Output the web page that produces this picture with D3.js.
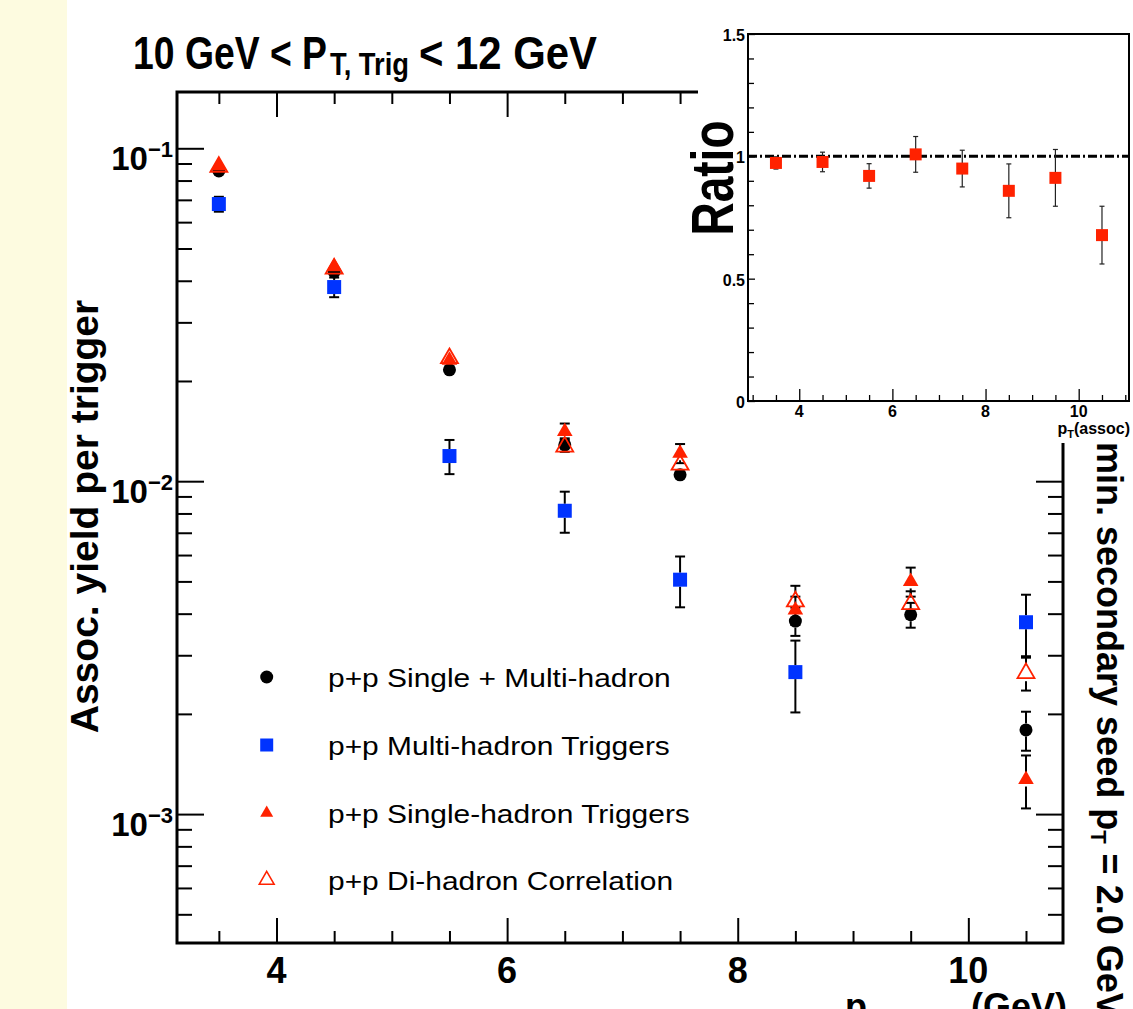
<!DOCTYPE html>
<html><head><meta charset="utf-8">
<script src="https://cdn.jsdelivr.net/npm/d3@7"></script>
<style>
html,body{margin:0;padding:0;background:#fff;}
svg{display:block;}
text{font-family:"Liberation Sans",Arial,Helvetica,sans-serif;fill:#000;}
</style></head><body>
<svg id="chart" width="1133" height="1009"></svg>
<script>
// ---------------- data ----------------
const xBins = [3.5, 4.5, 5.5, 6.5, 7.5, 8.5, 9.5, 10.5];
const combinedYield = [0.0855, 0.0425, 0.0216, 0.01285, 0.01045, 0.0038, 0.00397, 0.00179];
const combinedErr   = [0.0015, 0.0010, 0.0006, 0.0006, 0.0004, 0.00037, 0.00034, 0.00024];
const multiYield    = [0.068, 0.0383, 0.0119, 0.00815, 0.00506, 0.00267, null, 0.00377];
const multiErr      = [0.0035, 0.0026, 0.0014, 0.00115, 0.00088, 0.00065, null, 0.00079];
const singleYield   = [0.0885, 0.0441, 0.0231, 0.0141, 0.01213, 0.0041, 0.0050, 0.00127];
const singleErr     = [0.0015, 0.0010, 0.0006, 0.0008, 0.0008, 0.0004, 0.0005, 0.00023];
const diHadronYield = [0.0879, 0.0435, 0.0234, 0.0127, 0.0112, 0.00435, 0.00427, 0.00265];
const diHadronErr   = [0.0012, 0.0008, 0.0005, 0.0005, 0.0004, 0.0005, 0.0004, 0.0003];
const ratioValues   = [0.973, 0.977, 0.920, 1.008, 0.950, 0.859, 0.912, 0.678];
const ratioErr      = [0.025, 0.040, 0.050, 0.073, 0.075, 0.110, 0.116, 0.118];
const xTickLabels = [4, 6, 8, 10];
const yDecades = [-1, -2, -3];
const insetXTickLabels = [4, 6, 8, 10];
const insetYTickLabels = [0, 0.5, 1, 1.5];
const legendLabels = ["p+p Single + Multi-hadron", "p+p Multi-hadron Triggers",
                      "p+p Single-hadron Triggers", "p+p Di-hadron Correlation"];

// ---------------- setup ----------------
const RED = "#ff2200", BLUE = "#0033ff", BLACK = "#000";
const svg = d3.select("#chart");
svg.append("rect").attr("x", 0).attr("y", 0).attr("width", 1133).attr("height", 1009).attr("fill", "#fff");
svg.append("rect").attr("x", 0).attr("y", 0).attr("width", 67).attr("height", 1009).attr("fill", "#fdfbe0");

const x = d3.scaleLinear().domain([3.137, 10.821]).range([177, 1063]);
const y = d3.scaleLog().domain([4.1e-4, 0.1476]).range([943, 92]);

const isDecade = t => Math.abs(Math.log10(t) - Math.round(Math.log10(t))) < 1e-9;
const yAll = y.ticks();
const yMajor = yAll.filter(isDecade);
const yMinor = yAll.filter(t => !isDecade(t));
const xMajor = xTickLabels;
const xMinor = d3.range(3.5, 10.81, 0.5).filter(v => Math.abs(v - Math.round(v / 2) * 2) > 1e-9);

function styleAxis(g, w) {
  g.select(".domain").remove();
  g.selectAll("line").attr("stroke", "#000").attr("stroke-width", w);
}
const main = svg.append("g");
// left
main.append("g").attr("transform", "translate(177,0)").call(d3.axisRight(y).tickValues(yMinor).tickSize(15).tickFormat("")).call(g => styleAxis(g, 2));
main.append("g").attr("transform", "translate(177,0)").call(d3.axisRight(y).tickValues(yMajor).tickSize(27).tickFormat("")).call(g => styleAxis(g, 2));
// right
main.append("g").attr("transform", "translate(1063,0)").call(d3.axisLeft(y).tickValues(yMinor).tickSize(15).tickFormat("")).call(g => styleAxis(g, 2));
main.append("g").attr("transform", "translate(1063,0)").call(d3.axisLeft(y).tickValues(yMajor).tickSize(27).tickFormat("")).call(g => styleAxis(g, 2));
// bottom
main.append("g").attr("transform", "translate(0,943)").call(d3.axisTop(x).tickValues(xMinor).tickSize(12).tickFormat("")).call(g => styleAxis(g, 2));
main.append("g").attr("transform", "translate(0,943)").call(d3.axisTop(x).tickValues(xMajor).tickSize(25).tickFormat("")).call(g => styleAxis(g, 2));
// top
main.append("g").attr("transform", "translate(0,92)").call(d3.axisBottom(x).tickValues(xMinor).tickSize(12).tickFormat("")).call(g => styleAxis(g, 2));
main.append("g").attr("transform", "translate(0,92)").call(d3.axisBottom(x).tickValues(xMajor).tickSize(25).tickFormat("")).call(g => styleAxis(g, 2));

main.append("rect").attr("x", 177).attr("y", 92).attr("width", 886).attr("height", 851)
  .attr("fill", "none").attr("stroke", "#000").attr("stroke-width", 3);

// y tick labels
yDecades.forEach(d => {
  const t = main.append("text").attr("x", 173).attr("y", y(Math.pow(10, d)) + 22)
    .attr("text-anchor", "end").attr("font-weight", "bold");
  t.append("tspan").attr("font-size", 33).text("10");
  t.append("tspan").attr("font-size", 22).attr("dy", -13).text("\u2212" + Math.abs(d));
});
// x tick labels
xTickLabels.forEach(v => {
  main.append("text").attr("x", x(v)).attr("y", 983).attr("text-anchor", "middle")
    .attr("font-weight", "bold").attr("font-size", 36).text(v);
});

// axis titles
main.append("text").attr("transform", "translate(98,516.5) rotate(-90)").attr("text-anchor", "middle")
  .attr("font-weight", "bold").attr("font-size", 39).text("Assoc. yield per trigger");
{
  const t = main.append("text").attr("x", 1067).attr("y", 1019).attr("text-anchor", "end").attr("font-weight", "bold");
  t.append("tspan").attr("font-size", 36).text("p");
  t.append("tspan").attr("font-size", 26).attr("dy", 10).text("T,assoc");
  t.append("tspan").attr("font-size", 36).attr("dy", -10).text(" (GeV)");
}
// title (three pieces: main text, subscript, main text)
svg.append("text").attr("x", 133).attr("y", 69).attr("font-weight", "bold").attr("font-size", 47)
  .attr("textLength", 194).attr("lengthAdjust", "spacingAndGlyphs").text("10 GeV < P");
svg.append("text").attr("x", 330).attr("y", 75).attr("font-weight", "bold").attr("font-size", 31)
  .attr("textLength", 79).attr("lengthAdjust", "spacingAndGlyphs").text("T, Trig");
svg.append("text").attr("x", 419).attr("y", 69).attr("font-weight", "bold").attr("font-size", 47)
  .attr("textLength", 178).attr("lengthAdjust", "spacingAndGlyphs").text("< 12 GeV");

// ---------------- data marks ----------------
const series = [
  {vals: combinedYield, errs: combinedErr, type: "circle", half: 6.5},
  {vals: multiYield, errs: multiErr, type: "square", half: 7},
  {vals: singleYield, errs: singleErr, type: "tri", half: 7},
  {vals: diHadronYield, errs: diHadronErr, type: "otri", half: 8}
];
const marker = {
  circle: {sym: d3.symbolCircle, size: 133, fill: BLACK, stroke: "none", sw: 0},
  square: {sym: d3.symbolSquare, size: 196, fill: BLUE, stroke: "none", sw: 0},
  tri:    {sym: d3.symbolTriangle, size: 105, fill: RED, stroke: "none", sw: 0},
  otri:   {sym: d3.symbolTriangle, size: 125, fill: "none", stroke: RED, sw: 1.8}
};
const errG = main.append("g").attr("stroke", "#000").attr("stroke-width", 2);
series.forEach(s => {
  xBins.forEach((xb, i) => {
    const v = s.vals[i], e = s.errs[i];
    if (v == null) return;
    const cx = x(xb), cy = y(v), yt = y(v + e), yb = y(v - e);
    if (yt < cy - s.half) {
      errG.append("line").attr("x1", cx).attr("x2", cx).attr("y1", yt).attr("y2", cy - s.half);
      errG.append("line").attr("x1", cx - 5).attr("x2", cx + 5).attr("y1", yt).attr("y2", yt);
    }
    if (yb > cy + s.half) {
      errG.append("line").attr("x1", cx).attr("x2", cx).attr("y1", cy + s.half).attr("y2", yb);
      errG.append("line").attr("x1", cx - 5).attr("x2", cx + 5).attr("y1", yb).attr("y2", yb);
    }
  });
});
series.forEach(s => {
  const m = marker[s.type];
  xBins.forEach((xb, i) => {
    const v = s.vals[i];
    if (v == null) return;
    main.append("path").attr("d", d3.symbol(m.sym, m.size)())
      .attr("transform", `translate(${x(xb)},${y(v)})`)
      .attr("fill", m.fill).attr("stroke", m.stroke).attr("stroke-width", m.sw);
  });
});

// ---------------- legend ----------------
const legendRows = [677, 745, 813, 880];
const legendMarkers = [
  {sym: d3.symbolCircle, size: 133, fill: BLACK, stroke: "none", sw: 0},
  {sym: d3.symbolSquare, size: 169, fill: BLUE, stroke: "none", sw: 0},
  {sym: d3.symbolTriangle, size: 73, fill: RED, stroke: "none", sw: 0},
  {sym: d3.symbolTriangle, size: 97, fill: "none", stroke: RED, sw: 1.5}
];
legendLabels.forEach((lab, i) => {
  const m = legendMarkers[i];
  svg.append("path").attr("d", d3.symbol(m.sym, m.size)())
    .attr("transform", `translate(266.7,${legendRows[i]})`)
    .attr("fill", m.fill).attr("stroke", m.stroke).attr("stroke-width", m.sw);
  svg.append("text").attr("transform", `translate(328,${legendRows[i] + 9.5}) scale(1.16,1)`)
    .attr("font-size", 25.8).attr("fill", "#111").text(lab);
});

// ---------------- inset ----------------
const inset = svg.append("g");
inset.append("rect").attr("x", 698).attr("y", 0).attr("width", 435).attr("height", 443).attr("fill", "#fff");
const xi = d3.scaleLinear().domain([2.9, 11.08]).range([748, 1129]);
const yi = d3.scaleLinear().domain([0, 1.5]).range([401, 34]);
const xiMinor = d3.range(3, 11.01, 0.5).filter(v => !insetXTickLabels.includes(v));
const yiAll = d3.range(0, 15.5, 1).map(k => k / 10);
const yiMinor = yiAll.filter(v => !insetYTickLabels.some(t => Math.abs(t - v) < 1e-9));

inset.append("g").attr("transform", "translate(0,401)").call(d3.axisTop(xi).tickValues(xiMinor).tickSize(6).tickFormat("")).call(g => styleAxis(g, 1.3));
inset.append("g").attr("transform", "translate(0,401)").call(d3.axisTop(xi).tickValues(insetXTickLabels).tickSize(12).tickFormat("")).call(g => styleAxis(g, 1.3));
inset.append("g").attr("transform", "translate(748,0)").call(d3.axisRight(yi).tickValues(yiMinor).tickSize(6).tickFormat("")).call(g => styleAxis(g, 1.3));
inset.append("g").attr("transform", "translate(748,0)").call(d3.axisRight(yi).tickValues(insetYTickLabels).tickSize(7).tickFormat("")).call(g => styleAxis(g, 1.3));

// reference line at 1
inset.append("line").attr("x1", xi(2.9)).attr("x2", xi(11.08)).attr("y1", yi(1)).attr("y2", yi(1))
  .attr("stroke", "#000").attr("stroke-width", 3).attr("stroke-dasharray", "9,3,2,3");

inset.append("rect").attr("x", 748).attr("y", 34).attr("width", 381).attr("height", 367)
  .attr("fill", "none").attr("stroke", "#000").attr("stroke-width", 2);

insetYTickLabels.forEach(v => {
  inset.append("text").attr("x", 745).attr("y", yi(v) + 7).attr("text-anchor", "end")
    .attr("font-weight", "bold").attr("font-size", 16).text(v);
});
insetXTickLabels.forEach(v => {
  inset.append("text").attr("x", xi(v)).attr("y", 417).attr("text-anchor", "middle")
    .attr("font-weight", "bold").attr("font-size", 16).text(v);
});
{
  const t = inset.append("text").attr("x", 1130).attr("y", 434).attr("text-anchor", "end").attr("font-weight", "bold");
  t.append("tspan").attr("font-size", 16).text("p");
  t.append("tspan").attr("font-size", 11).attr("dy", 4).text("T");
  t.append("tspan").attr("font-size", 16).attr("dy", -4).text("(assoc)");
}
inset.append("text").attr("transform", "translate(733,178) rotate(-90) scale(1,1.3)").attr("text-anchor", "middle")
  .attr("font-weight", "bold").attr("font-size", 46).text("Ratio");

const ieG = inset.append("g").attr("stroke", "#222").attr("stroke-width", 1.2);
xBins.forEach((xb, i) => {
  const cx = xi(xb), cy = yi(ratioValues[i]);
  const yt = yi(ratioValues[i] + ratioErr[i]), yb = yi(ratioValues[i] - ratioErr[i]);
  ieG.append("line").attr("x1", cx).attr("x2", cx).attr("y1", yt).attr("y2", yb);
  ieG.append("line").attr("x1", cx - 2.5).attr("x2", cx + 2.5).attr("y1", yt).attr("y2", yt);
  ieG.append("line").attr("x1", cx - 2.5).attr("x2", cx + 2.5).attr("y1", yb).attr("y2", yb);
});
xBins.forEach((xb, i) => {
  inset.append("path").attr("d", d3.symbol(d3.symbolSquare, 144)())
    .attr("transform", `translate(${xi(xb)},${yi(ratioValues[i])})`).attr("fill", RED);
});

// right side rotated note
{
  const t = svg.append("text").attr("transform", "translate(1097,442) rotate(90)").attr("font-weight", "bold");
  t.append("tspan").attr("font-size", 36).text("min. secondary seed p");
  t.append("tspan").attr("font-size", 22).attr("dy", 6).text("T");
  t.append("tspan").attr("font-size", 36).attr("dy", -6).text(" = 2.0 GeV");
}
</script>
</body></html>
